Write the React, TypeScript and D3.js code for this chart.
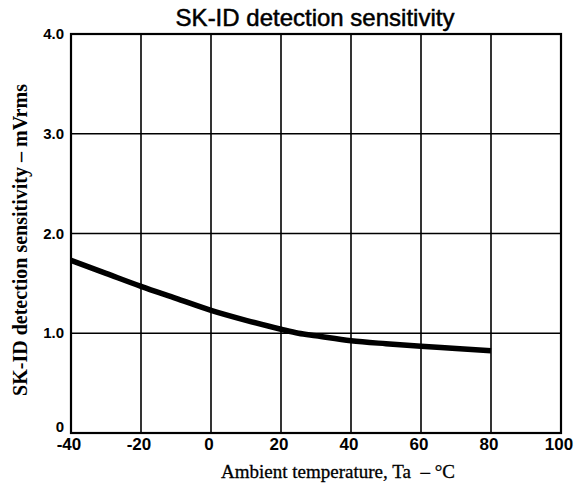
import React from "react";
import * as d3 from "d3";

const temps = [-40, -30, -20, -10, 0, 10, 20, 25, 30, 40, 50, 60, 70, 80];
const sensitivity = [1.73, 1.6, 1.47, 1.35, 1.23, 1.13, 1.04, 1.0, 0.975, 0.925, 0.895, 0.87, 0.848, 0.825];
const xTicks = [-40, -20, 0, 20, 40, 60, 80, 100];
const yTicks = [0, 1, 2, 3, 4];
const yTickLabels = ["0", "1.0", "2.0", "3.0", "4.0"];
const title = "SK-ID detection sensitivity";
const xTitle = "Ambient temperature, Ta\u00a0\u00a0– °C";
const yTitle = "SK-ID detection sensitivity – mVrms";

export default function App() {
  const W = 583, H = 495;
  const left = 71, right = 561, top = 34, bottom = 433;
  const x = d3.scaleLinear().domain([-40, 100]).range([left, right]);
  const y = d3.scaleLinear().domain([0, 4]).range([bottom, top]);
  const pts = temps.map((t, i) => [t, sensitivity[i]] as [number, number]);
  const line = d3.line<[number, number]>().x(d => x(d[0])).y(d => y(d[1])).curve(d3.curveMonotoneX);
  return (
    <svg width={W} height={H} style={{ position: "absolute", left: 0, top: 0, background: "#fff" }}>
      <rect x={0} y={0} width={W} height={H} fill="#fff" />
      <text x={315} y={26} textAnchor="middle" fontFamily="Liberation Sans, Arial, sans-serif" fontSize={24} fill="#000" stroke="#000" strokeWidth={0.5}>{title}</text>
      {xTicks.map(t => (
        <line key={"gx" + t} x1={x(t)} x2={x(t)} y1={top} y2={bottom} stroke="#000" strokeWidth={1.6} />
      ))}
      {yTicks.map(t => (
        <line key={"gy" + t} x1={left} x2={right} y1={y(t)} y2={y(t)} stroke="#000" strokeWidth={1.6} />
      ))}
      <rect x={left} y={top} width={right - left} height={bottom - top} fill="none" stroke="#000" strokeWidth={2.2} />
      <path d={line(pts) ?? ""} fill="none" stroke="#000" strokeWidth={5.5} strokeLinecap="butt" />
      {yTicks.map((t, i) => (
        <text key={"ly" + t} x={64} y={y(t) + (t === 0 ? -1 : 5)} textAnchor="end" fontFamily="Liberation Sans, Arial, sans-serif" fontWeight="bold" fontSize={15} fill="#000">{yTickLabels[i]}</text>
      ))}
      {xTicks.map(t => (
        <text key={"lx" + t} x={x(t) - 2} y={450} textAnchor="middle" fontFamily="Liberation Sans, Arial, sans-serif" fontWeight="bold" fontSize={17} fill="#000">{t}</text>
      ))}
      <text x={338} y={478} textAnchor="middle" fontFamily="Liberation Serif, Times New Roman, serif" fontSize={19} fill="#000" stroke="#000" strokeWidth={0.3}>{xTitle}</text>
      <text transform={`translate(27,240) rotate(-90)`} textAnchor="middle" fontFamily="Liberation Serif, Times New Roman, serif" fontWeight="bold" fontSize={20} fill="#000">{yTitle}</text>
    </svg>
  );
}
